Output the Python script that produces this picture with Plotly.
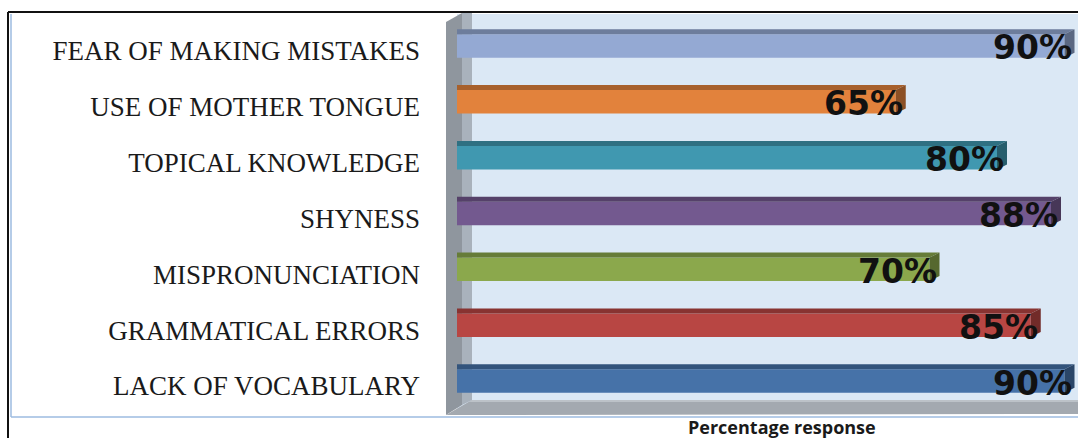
import plotly.graph_objects as go

# Survey results, listed bottom to top as they appear on the chart
categories = [
    "LACK OF VOCABULARY",
    "GRAMMATICAL ERRORS",
    "MISPRONUNCIATION",
    "SHYNESS",
    "TOPICAL KNOWLEDGE",
    "USE OF MOTHER TONGUE",
    "FEAR OF MAKING MISTAKES",
]
percent = [90, 85, 70, 88, 80, 65, 90]
bar_colors = ["#4672a8", "#b84643", "#8ba84c", "#73598f", "#4098b0", "#e2823c", "#94a9d3"]
axis_title = "Percentage response"

W, H = 1078, 438
L, R, T, B = 457, 0, 14, 26
X_MAX = 92.0
Y_LO, Y_HI = -0.555, 6.573
plot_w = W - L - R
plot_h = H - T - B
px_per_x = plot_w / X_MAX
px_per_y = plot_h / (Y_HI - Y_LO)


def shade(hex_color, f):
    h = hex_color.lstrip("#")
    r, g, b = (int(h[i:i + 2], 16) for i in (0, 2, 4))
    return "#%02x%02x%02x" % (int(r * f), int(g * f), int(b * f))


def px_to_paper(px, py):
    return (px - L) / plot_w, (H - B - py) / plot_h


def paper_path(points):
    pts = [px_to_paper(x, y) for x, y in points]
    return "M " + " L ".join(f"{x:.5f},{y:.5f}" for x, y in pts) + " Z"


ypos = list(range(len(categories)))
bar_w = 0.42
depth_x = 10 / px_per_x      # 3-D depth, horizontal part
depth_y = 5 / px_per_y       # 3-D depth, vertical part

fig = go.Figure()
fig.add_trace(go.Bar(
    x=percent, y=ypos, orientation="h", width=bar_w,
    marker=dict(color=bar_colors, line=dict(width=0)),
    hoverinfo="skip", showlegend=False,
))

shapes = []
# side wall and floor
shapes.append(dict(type="path", xref="paper", yref="paper",
                   path=paper_path([(446, 22), (462, 13), (462, 405), (446, 415)]),
                   fillcolor="#8f969e", line=dict(width=0), layer="below"))
shapes.append(dict(type="path", xref="paper", yref="paper",
                   path=paper_path([(462, 13), (472, 13), (472, 400), (462, 405)]),
                   fillcolor="#a9b2bc", line=dict(width=0), layer="below"))
shapes.append(dict(type="path", xref="paper", yref="paper",
                   path=paper_path([(446, 415), (472, 400), (1078, 400), (1078, 414)]),
                   fillcolor="#a3a9b0", line=dict(width=0), layer="below"))
shapes.append(dict(type="path", xref="paper", yref="paper",
                   path=paper_path([(472, 400), (1078, 400), (1078, 402), (469, 402)]),
                   fillcolor="#bcc2c8", line=dict(width=0), layer="below"))

# 3-D top and end faces of each bar
for i, (v, c) in enumerate(zip(percent, bar_colors)):
    yt = i + bar_w / 2
    yb = i - bar_w / 2
    shapes.append(dict(
        type="path", xref="x", yref="y", layer="above",
        path=f"M 0,{yt} L {v},{yt} L {v + depth_x},{yt + depth_y} L 0,{yt + depth_y} Z",
        fillcolor=shade(c, 0.74), line=dict(width=0)))
    shapes.append(dict(
        type="path", xref="x", yref="y", layer="above",
        path=f"M {v},{yb} L {v},{yt} L {v + depth_x},{yt + depth_y} L {v + depth_x},{yb + depth_y} Z",
        fillcolor=shade(c, 0.62), line=dict(width=0)))

# outer borders
for (x0, y0, x1, y1, col, wdt) in [
    (8, 12, 1078, 12, "#111111", 2),
    (8, 12, 8, 438, "#111111", 2),
    (11, 14, 11, 417, "#9dbbe0", 1.5),
    (11, 417, 1078, 417, "#9dbbe0", 1.5),
]:
    a0, b0 = px_to_paper(x0, y0)
    a1, b1 = px_to_paper(x1, y1)
    shapes.append(dict(type="line", xref="paper", yref="paper",
                       x0=a0, y0=b0, x1=a1, y1=b1,
                       line=dict(color=col, width=wdt), layer="above"))

annotations = []
for i, v in enumerate(percent):
    annotations.append(dict(
        x=v, y=i, xref="x", yref="y", text=f"{v}%", showarrow=False,
        xanchor="right", yanchor="middle", xshift=9, yshift=-2,
        font=dict(family="DejaVu Sans", size=33, color="#111111", weight="bold"),
    ))
tx, ty = px_to_paper(782, 413)
annotations.append(dict(
    x=tx, y=ty, xref="paper", yref="paper", text=axis_title, showarrow=False,
    xanchor="center", yanchor="top",
    font=dict(family="Open Sans", size=18, color="#1a1a1a", weight="bold"),
))

fig.update_layout(
    width=W, height=H,
    margin=dict(l=L, r=R, t=T, b=B, pad=0),
    paper_bgcolor="white",
    plot_bgcolor="#dbe8f5",
    shapes=shapes,
    annotations=annotations,
    xaxis=dict(range=[0, X_MAX], showgrid=False, zeroline=False,
               showticklabels=False, ticks="", showline=False, fixedrange=True),
    yaxis=dict(range=[Y_LO, Y_HI], tickmode="array", tickvals=ypos, ticktext=categories,
               showgrid=False, zeroline=False, ticks="", showline=False,
               ticklabelstandoff=36, ticklabelshift=5,
               tickfont=dict(family="Liberation Serif", size=27, color="#1a1a1a"),
               fixedrange=True),
)

fig.write_html("out.html", config={"displayModeBar": False})
